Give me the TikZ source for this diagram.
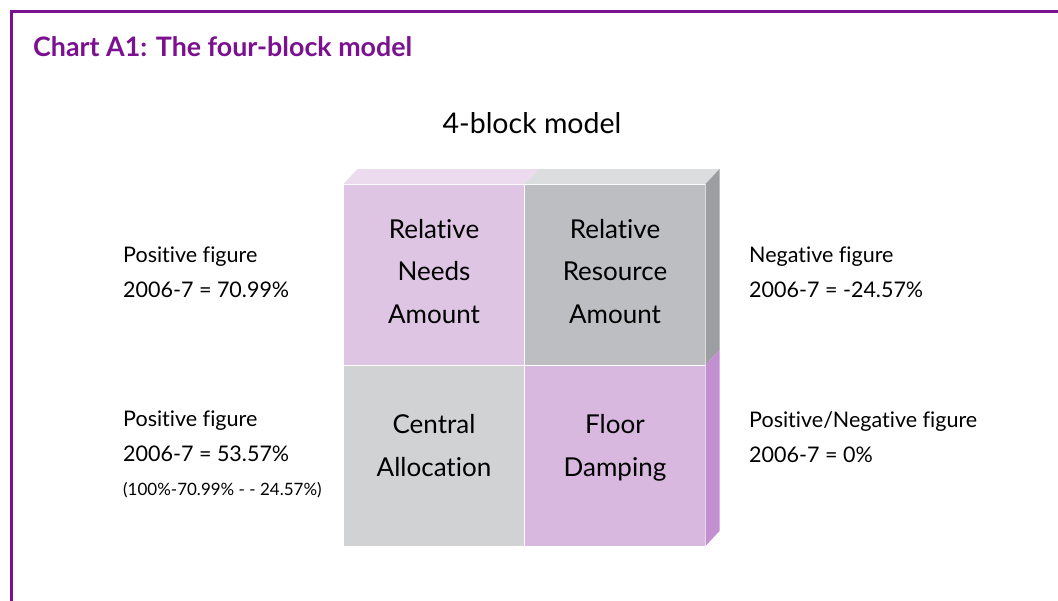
\documentclass[tikz,border=0pt]{standalone}
\usepackage{fontspec}
\setmainfont{Lato}[Ligatures=NoCommon]
\usetikzlibrary{calc}

% palette
\definecolor{framepurple}{HTML}{7B1190}
\definecolor{needsfill}{HTML}{DFC5E4}
\definecolor{resourcefill}{HTML}{BDBEC1}
\definecolor{centralfill}{HTML}{D1D2D4}
\definecolor{floorfill}{HTML}{D8B8DF}
\definecolor{toppink}{HTML}{ECDAEE}
\definecolor{topgrey}{HTML}{DCDDDF}
\definecolor{sidegrey}{HTML}{9D9EA1}
\definecolor{sidepurple}{HTML}{C290D0}

\tikzset{
  cell/.style={draw=white, line width=0.8pt, minimum width=181pt,
    minimum height=181pt, inner sep=0pt, outer sep=0pt},
  % the base anchor of a multi-line node sits on its last line
  celltext/.style={align=center, inner sep=0pt, anchor=base,
    font=\fontsize{26}{42.5}\selectfont},
  figlabel/.style={align=left, inner sep=0pt, anchor=base west,
    font=\fontsize{21.5}{35}\selectfont},
}

\begin{document}
\begin{tikzpicture}[x=1pt,y=-1pt]
\useasboundingbox (0,0) rectangle (1058,600);
\fill[white] (0,0) rectangle (1058,600);

% frame
\draw[framepurple, line width=3pt] (1060,11) -- (11,11) -- (11,602);

% title and heading
\node[anchor=base west, inner sep=0pt, text=framepurple,
  font=\bfseries\fontsize{26.8}{30}\selectfont] (title) at (33,56)
  {Chart A1: The four-block model};
\node[anchor=base, inner sep=0pt, font=\fontsize{28.5}{30}\selectfont]
  (heading) at (532,133) {4-block model};

% front faces of the four blocks
\node[cell, fill=needsfill]    (needs)    at (434,274.5) {};
\node[cell, fill=resourcefill] (resource) at (615,274.5) {};
\node[cell, fill=centralfill]  (central)  at (434,455.5) {};
\node[cell, fill=floorfill]    (floor)    at (615,455.5) {};

% top face
\fill[toppink] (needs.north west) -- (needs.north east)
  -- ($(needs.north east)+(14,-15)$) -- ($(needs.north west)+(14,-15)$) -- cycle;
\fill[topgrey] (resource.north west) -- (resource.north east)
  -- ($(resource.north east)+(14,-15)$) -- ($(resource.north west)+(14,-15)$) -- cycle;

% right side face
\fill[sidegrey] (resource.north east) -- ($(resource.north east)+(14,-15)$)
  -- ($(resource.south east)+(14,-15)$) -- (resource.south east) -- cycle;
\fill[sidepurple] (floor.north east) -- ($(floor.north east)+(14,-15)$)
  -- ($(floor.south east)+(14,-15)$) -- (floor.south east) -- cycle;

% block texts
\node[celltext] (needstext) at (needs.center |- 0,323)
  {Relative\\Needs\\Amount};
\node[celltext] (resourcetext) at (resource.center |- 0,323)
  {Relative\\Resource\\Amount};
\node[celltext] (centraltext) at (central.center |- 0,476)
  {Central\\Allocation};
\node[celltext] (floortext) at (floor.center |- 0,476)
  {Floor\\Damping};

% figures beside the blocks
\node[figlabel] (needsfig) at (123,297)
  {Positive figure\\2006-7 = 70.99\%};
\node[figlabel] (resourcefig) at (749,297)
  {Negative figure\\2006-7 = -24.57\%};
\node[figlabel] (centralfig) at (123,495)
  {Positive figure\\2006-7 = 53.57\%\\[-1pt]{\fontsize{17}{34}\selectfont(100\%-70.99\% - - 24.57\%)}};
\node[figlabel] (floorfig) at (749,462)
  {Positive/Negative figure\\2006-7 = 0\%};
\end{tikzpicture}
\end{document}
